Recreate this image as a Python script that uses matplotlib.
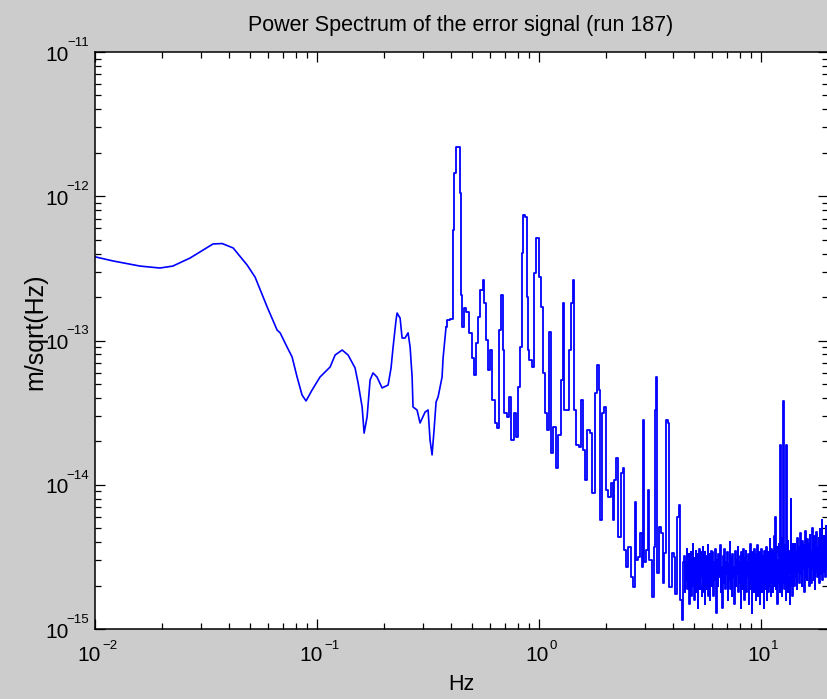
import numpy as np
import matplotlib
matplotlib.use('Agg')
from matplotlib import pyplot as plt
from matplotlib.ticker import LogLocator, NullFormatter
from matplotlib.transforms import blended_transform_factory, offset_copy

# ---- data (Hz, m/sqrt(Hz)) ----
# smooth low-frequency part (below the big 0.43 Hz line)
freq_low = [0.0101, 0.01205, 0.01596, 0.0196, 0.0224, 0.0268, 0.0297, 0.0340, 0.0374, 0.0419,
            0.0484, 0.0526, 0.0596, 0.0661, 0.0682, 0.0733, 0.0772, 0.0813, 0.0856, 0.0892,
            0.0950, 0.1031, 0.1145, 0.1206, 0.1297, 0.138, 0.1483, 0.1531, 0.1596, 0.1629,
            0.168, 0.1733, 0.1787, 0.1862, 0.1963, 0.2089, 0.2154, 0.220, 0.2269, 0.2293,
            0.2366, 0.2415, 0.249, 0.257, 0.2625, 0.268, 0.2705, 0.282, 0.291, 0.3065,
            0.3162, 0.3228, 0.3296, 0.3365, 0.3436, 0.3508, 0.3656, 0.3695, 0.381]
asd_low = [3.79e-13, 3.56e-13, 3.28e-13, 3.18e-13, 3.28e-13, 3.73e-13, 4.11e-13, 4.67e-13, 4.70e-13, 4.38e-13,
           3.34e-13, 2.75e-13, 1.71e-13, 1.18e-13, 1.13e-13, 9.0e-14, 7.69e-14, 5.58e-14, 4.19e-14, 3.81e-14,
           4.54e-14, 5.58e-14, 6.55e-14, 7.93e-14, 8.59e-14, 7.93e-14, 6.45e-14, 5.07e-14, 3.46e-14, 2.28e-14,
           2.95e-14, 5.32e-14, 5.96e-14, 5.58e-14, 4.69e-14, 4.91e-14, 6.45e-14, 9.0e-14, 1.39e-13, 1.55e-13,
           1.43e-13, 1.04e-13, 1.04e-13, 1.13e-13, 9.0e-14, 5.58e-14, 3.46e-14, 3.30e-14, 2.68e-14, 3.19e-14,
           3.30e-14, 2.04e-14, 1.61e-14, 2.40e-14, 3.75e-14, 4.06e-14, 5.58e-14, 7.56e-14, 1.24e-13]

# resonant lines between 0.38 and 4.5 Hz
freq_lines = [0.381, 0.389,
              0.4055, 0.410, 0.412, 0.4183, 0.4272, 0.436, 0.4405, 0.4477, 0.4547, 0.4642,
              0.4738, 0.4887, 0.5045, 0.5148, 0.526, 0.531, 0.5535, 0.5623, 0.5713, 0.5834,
              0.5955, 0.6077, 0.6205, 0.6402, 0.6536, 0.6672, 0.681, 0.6886, 0.7028, 0.7251,
              0.7404, 0.7558, 0.7798, 0.796, 0.8128, 0.830, 0.8385, 0.856, 0.874, 0.8831,
              0.892, 0.911, 0.9397, 0.9594, 0.9795, 0.9948, 1.0104, 1.0316, 1.042, 1.075,
              1.098, 1.109, 1.1444, 1.1684, 1.205, 1.230, 1.269, 1.282, 1.309, 1.337,
              1.379, 1.408, 1.422, 1.452, 1.483, 1.530, 1.5617, 1.578, 1.628, 1.663,
              1.715, 1.751, 1.806, 1.845, 1.864, 1.903, 1.942, 1.983, 2.025, 2.067,
              2.133, 2.154, 2.199, 2.246, 2.293, 2.366, 2.390, 2.440, 2.492, 2.544,
              2.624, 2.679, 2.707, 2.764, 2.82, 2.881, 2.94, 2.956, 3.003, 3.066,
              3.113, 3.162, 3.263, 3.296, 3.348, 3.39, 3.436, 3.508, 3.581, 3.619,
              3.695, 3.753, 3.831, 3.891, 4.014, 4.056, 4.141, 4.228, 4.272, 4.361,
              4.407, 4.50]
asd_lines = [1.24e-13, 1.39e-13,
             1.41e-13, 1.55e-13, 5.83e-13, 1.45e-12, 2.19e-12, 2.19e-12, 1.05e-12, 2.07e-13, 1.24e-13, 1.68e-13,
             1.58e-13, 1.13e-13, 7.56e-14, 5.77e-14, 9.61e-14, 1.46e-13, 2.24e-13, 2.63e-13, 1.82e-13, 1.01e-13,
             6.24e-14, 8.59e-14, 3.87e-14, 2.68e-14, 2.47e-14, 1.18e-13, 2.07e-13, 8.59e-14, 3.14e-14, 2.95e-14,
             4.06e-14, 2.04e-14, 3.14e-14, 2.14e-14, 4.76e-14, 9.0e-14, 4.04e-13, 7.41e-13, 7.18e-13, 2.00e-13,
             8.59e-14, 7.33e-14, 6.55e-14, 2.94e-13, 5.13e-13, 5.13e-13, 2.75e-13, 1.71e-13, 5.95e-14, 3.14e-14,
             2.40e-14, 1.14e-13, 1.66e-14, 2.51e-14, 1.31e-14, 2.21e-14, 5.32e-14, 1.82e-13, 3.30e-14, 3.30e-14,
             8.59e-14, 1.82e-13, 2.63e-13, 3.30e-14, 1.89e-14, 1.83e-14, 3.87e-14, 1.74e-14, 1.08e-14, 2.40e-14,
             2.29e-14, 8.77e-15, 4.33e-14, 6.76e-14, 4.54e-14, 5.70e-15, 3.14e-14, 3.46e-14, 9.2e-15, 8.22e-15,
             1.03e-14, 5.70e-15, 1.08e-14, 1.53e-14, 4.34e-15, 1.21e-14, 1.31e-14, 3.53e-15, 2.69e-15, 3.70e-15,
             2.29e-15, 1.96e-15, 7.6e-15, 3.01e-15, 3.16e-15, 4.63e-15, 2.69e-15, 2.8e-14, 2.9e-15, 3.53e-15,
             9.2e-15, 3.01e-15, 1.67e-15, 3.70e-15, 3.30e-14, 5.58e-14, 2.44e-15, 5.1e-15, 4.63e-15, 2.08e-15,
             3.36e-15, 2.8e-14, 2.68e-14, 1.96e-15, 3.36e-15, 3.16e-15, 1.75e-15, 5.97e-15, 7.24e-15, 1.59e-15,
             1.15e-15, 2.9e-15]

# noise floor above ~4.5 Hz, values in units of 1e-15 m/sqrt(Hz)
freq_floor = [4.525, 4.55, 4.575, 4.6, 4.625, 4.65, 4.675, 4.7, 4.725, 4.75,
              4.775, 4.8, 4.825, 4.85, 4.875, 4.9, 4.925, 4.95, 4.975, 5.0,
              5.025, 5.05, 5.075, 5.1, 5.125, 5.15, 5.175, 5.2, 5.225, 5.25,
              5.275, 5.3, 5.325, 5.35, 5.375, 5.4, 5.425, 5.45, 5.475, 5.5,
              5.525, 5.55, 5.575, 5.6, 5.625, 5.65, 5.675, 5.7, 5.725, 5.75,
              5.775, 5.8, 5.825, 5.85, 5.875, 5.9, 5.925, 5.95, 5.975, 6.0,
              6.05, 6.1, 6.15, 6.2, 6.25, 6.3, 6.35, 6.4, 6.45, 6.5,
              6.55, 6.6, 6.65, 6.7, 6.75, 6.8, 6.85, 6.9, 6.95, 7.0,
              7.05, 7.1, 7.15, 7.2, 7.25, 7.3, 7.35, 7.4, 7.45, 7.5,
              7.55, 7.6, 7.65, 7.7, 7.75, 7.8, 7.85, 7.9, 7.95, 8.0,
              8.05, 8.1, 8.15, 8.2, 8.25, 8.3, 8.35, 8.4, 8.45, 8.5,
              8.55, 8.6, 8.65, 8.7, 8.75, 8.8, 8.85, 8.9, 8.95, 9.0,
              9.05, 9.1, 9.15, 9.2, 9.25, 9.3, 9.35, 9.4, 9.45, 9.5,
              9.55, 9.6, 9.65, 9.7, 9.75, 9.8, 9.85, 9.9, 9.95, 10.0,
              10.05, 10.1, 10.15, 10.2, 10.25, 10.3, 10.35, 10.4, 10.45, 10.5,
              10.55, 10.6, 10.65, 10.7, 10.75, 10.8, 10.85, 10.9, 10.95, 11.0,
              11.05, 11.1, 11.15, 11.2, 11.25, 11.3, 11.35, 11.4, 11.45, 11.5,
              11.55, 11.6, 11.65, 11.7, 11.75, 11.8, 11.85, 11.9, 11.95, 12.0,
              12.05, 12.1, 12.15, 12.2, 12.25, 12.3, 12.35, 12.4, 12.45, 12.5,
              12.55, 12.6, 12.65, 12.7, 12.75, 12.8, 12.85, 12.9, 12.95, 13.0,
              13.05, 13.1, 13.15, 13.2, 13.25, 13.3, 13.35, 13.4, 13.45, 13.5,
              13.55, 13.6, 13.65, 13.7, 13.75, 13.8, 13.85, 13.9, 13.95, 14.0,
              14.1, 14.2, 14.3, 14.4, 14.5, 14.6, 14.7, 14.8, 14.9, 15.0,
              15.1, 15.2, 15.3, 15.4, 15.5, 15.6, 15.7, 15.8, 15.9, 16.0,
              16.1, 16.2, 16.3, 16.4, 16.5, 16.6, 16.7, 16.8, 16.9, 17.0,
              17.1, 17.2, 17.3, 17.4, 17.5, 17.6, 17.7, 17.8, 17.9, 18.0,
              18.1, 18.2, 18.3, 18.4, 18.5, 18.6, 18.7, 18.8, 18.9, 19.0,
              19.1, 19.2, 19.3, 19.4, 19.5, 19.6, 19.7, 19.8, 19.9, 20.0]
asd_floor_fm = [3.2, 1.8, 2.9, 2.2, 3.6, 1.9, 2.6, 2.1, 3.3, 1.5,
                2.8, 2.3, 3.4, 1.7, 3.0, 2.0, 3.9, 2.2, 2.7, 1.6,
                3.1, 2.4, 3.5, 1.8, 2.9, 2.1, 3.3, 1.4, 2.8, 2.2,
                3.6, 1.9, 3.0, 2.3, 3.4, 1.7, 2.7, 2.0, 3.7, 1.8,
                3.0, 2.4, 3.4, 1.5, 2.9, 2.1, 3.2, 1.9, 2.6, 2.2,
                3.8, 1.7, 3.1, 2.0, 3.3, 1.6, 2.8, 2.3, 3.5, 2.0,
                3.4, 1.7, 2.9, 2.2, 3.6, 1.3, 3.0, 2.0, 3.3, 2.3,
                3.8, 1.8, 2.7, 1.4, 3.2, 2.1, 3.6, 1.9, 2.9, 2.4,
                3.4, 1.6, 2.8, 2.2, 4.0, 1.9, 3.1, 1.7, 3.3, 2.3,
                2.7, 1.5, 3.5, 2.0, 3.0, 2.4, 3.7, 1.8, 2.9, 2.1,
                3.2, 1.4, 3.4, 2.2, 2.8, 1.9, 3.6, 1.6, 3.1, 2.2,
                3.5, 1.8, 2.9, 2.3, 3.3, 1.5, 3.0, 2.1, 3.9, 1.9,
                2.8, 1.3, 3.4, 2.2, 3.1, 1.8, 3.6, 2.0, 2.7, 1.6,
                3.3, 2.3, 3.8, 1.7, 3.0, 2.1, 3.4, 1.5, 2.9, 2.2,
                3.6, 1.8, 3.2, 2.0, 2.8, 1.4, 3.5, 2.3, 3.1, 1.9,
                3.7, 1.6, 3.0, 2.2, 3.4, 1.8, 2.9, 2.1, 4.2, 2.0,
                3.3, 1.7, 3.6, 2.1, 2.9, 1.8, 3.5, 2.0, 3.1, 4.4,
                2.2, 6.0, 1.9, 3.4, 2.3, 3.7, 1.5, 3.0, 2.1, 3.9,
                2.4, 3.2, 1.8, 19.0, 2.0, 3.5, 2.2, 4.3, 1.7, 3.3,
                2.1, 38.0, 2.5, 3.6, 1.9, 3.8, 2.3, 3.0, 1.6, 19.0,
                2.2, 3.6, 2.0, 4.1, 1.8, 3.3, 2.4, 3.5, 1.5, 3.1,
                2.3, 8.0, 2.0, 3.7, 2.2, 3.4, 1.7, 3.9, 2.1, 3.2,
                2.0, 3.9, 2.3, 3.5, 1.9, 4.3, 2.5, 3.7, 2.1, 4.6,
                2.4, 3.4, 2.0, 4.1, 2.6, 3.8, 1.8, 4.8, 2.3, 3.6,
                2.2, 4.2, 2.7, 3.9, 2.0, 4.5, 2.4, 3.5, 2.1, 5.0,
                2.6, 3.8, 2.2, 4.4, 1.9, 4.0, 2.5, 4.7, 2.3, 3.7,
                2.8, 4.3, 2.1, 4.9, 2.4, 3.6, 2.6, 5.7, 2.2, 4.1,
                2.5, 4.4, 2.9, 4.0, 2.3, 5.2, 2.6, 4.6, 3.0, 4.2]

x_decades = [-2, -1, 0, 1]
y_decades = [-15, -14, -13, -12, -11]

blue = (0, 0, 1)
plt.rcParams['font.family'] = ['Liberation Sans', 'DejaVu Sans']

fig = plt.figure(figsize=(8.27, 6.99), dpi=100, facecolor='#cccccc')
ax = fig.add_axes([95 / 827, 1 - 629 / 699, 733 / 827, 577 / 699])
ax.set_facecolor('white')

ax.loglog(freq_low, asd_low, color=blue, linewidth=1.2)
f_hi = np.array(freq_lines + freq_floor)
a_hi = np.concatenate([np.array(asd_lines), np.array(asd_floor_fm) * 1e-15])
ax.loglog(f_hi, a_hi, color=blue, linewidth=1.3, drawstyle='steps-mid')

ax.set_xlim(1e-2, 20)
ax.set_ylim(1e-15, 1e-11)
ax.xaxis.set_major_locator(LogLocator(base=10, numticks=10))
ax.xaxis.set_minor_locator(LogLocator(base=10, subs=np.arange(2, 10), numticks=20))
ax.xaxis.set_minor_formatter(NullFormatter())
ax.yaxis.set_minor_formatter(NullFormatter())
ax.set_xticklabels([])
ax.set_yticklabels([])
ax.tick_params(which='both', direction='in', top=True, right=True, colors='black')
ax.tick_params(which='major', length=7, width=0.9)
ax.tick_params(which='minor', length=4.5, width=0.9)
for s in ax.spines.values():
    s.set_linewidth(1.1)

# MATLAB-like tick labels: big "10" with a small exponent
big, small = 15, 9.5
xt = blended_transform_factory(ax.transData, ax.transAxes)
for e in x_decades:
    s = str(e).replace('-', '\u2212') if e < 0 else str(e)
    w_exp = 6.5 * len(str(e))
    ax.text(10.0 ** e, 0, '10', ha='right', va='top', fontsize=big,
            transform=offset_copy(xt, fig, x=12.5 - w_exp / 2, y=-17, units='dots'))
    ax.text(10.0 ** e, 0, s, ha='left', va='top', fontsize=small,
            transform=offset_copy(xt, fig, x=13.5 - w_exp / 2, y=-11, units='dots'))
yt = blended_transform_factory(ax.transAxes, ax.transData)
for e in y_decades:
    s = str(e).replace('-', '\u2212')
    ax.text(0, 10.0 ** e, s, ha='right', va='bottom', fontsize=small,
            transform=offset_copy(yt, fig, x=-6, y=3, units='dots'))
    ax.text(0, 10.0 ** e, '10', ha='right', va='center', fontsize=big,
            transform=offset_copy(yt, fig, x=-26, y=-3, units='dots'))

fig.text(461 / 827, 1 - 25 / 699, 'Power Spectrum of the error signal (run 187)',
         ha='center', va='center', fontsize=15.5)
fig.text(461 / 827, 1 - 685 / 699, 'Hz', ha='center', va='center', fontsize=15.5)
fig.text(35 / 827, 1 - 332 / 699, 'm/sqrt(Hz)', ha='center', va='center',
         rotation=90, fontsize=18)

fig.savefig('out.png', dpi=100, facecolor=fig.get_facecolor())
